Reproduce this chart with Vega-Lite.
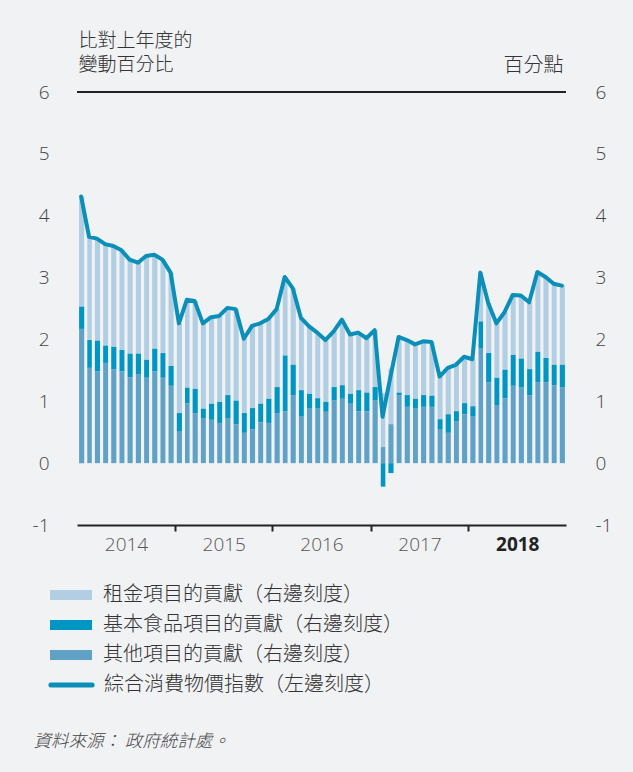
{
  "$schema": "https://vega.github.io/schema/vega-lite/v6.json",
  "width": 489,
  "height": 433,
  "autosize": {"type": "none"},
  "padding": {"left": 77, "top": 92, "right": 67, "bottom": 247},
  "background": "#f1f2f4",
  "config": {
    "view": {"stroke": null},
    "axis": {"grid": false, "labelFont": "Open Sans", "labelFontSize": 19, "labelColor": "#444", "labelFontWeight": 300}
  },
  "data": {"values": [
    {"date": "2014/01/01", "其他": 2.17, "基本食品": 0.36, "租金": 1.78, "ccpi": 4.31},
    {"date": "2014/02/01", "其他": 1.54, "基本食品": 0.45, "租金": 1.67, "ccpi": 3.66},
    {"date": "2014/03/01", "其他": 1.48, "基本食品": 0.50, "租金": 1.65, "ccpi": 3.63},
    {"date": "2014/04/01", "其他": 1.62, "基本食品": 0.28, "租金": 1.64, "ccpi": 3.54},
    {"date": "2014/05/01", "其他": 1.52, "基本食品": 0.36, "租金": 1.63, "ccpi": 3.51},
    {"date": "2014/06/01", "其他": 1.48, "基本食品": 0.35, "租金": 1.61, "ccpi": 3.44},
    {"date": "2014/07/01", "其他": 1.39, "基本食品": 0.38, "租金": 1.52, "ccpi": 3.29},
    {"date": "2014/08/01", "其他": 1.44, "基本食品": 0.33, "租金": 1.47, "ccpi": 3.24},
    {"date": "2014/09/01", "其他": 1.38, "基本食品": 0.29, "租金": 1.68, "ccpi": 3.35},
    {"date": "2014/10/01", "其他": 1.48, "基本食品": 0.37, "租金": 1.52, "ccpi": 3.37},
    {"date": "2014/11/01", "其他": 1.38, "基本食品": 0.40, "租金": 1.51, "ccpi": 3.29},
    {"date": "2014/12/01", "其他": 1.25, "基本食品": 0.32, "租金": 1.51, "ccpi": 3.08},
    {"date": "2015/01/01", "其他": 0.52, "基本食品": 0.29, "租金": 1.45, "ccpi": 2.26},
    {"date": "2015/02/01", "其他": 0.97, "基本食品": 0.25, "租金": 1.42, "ccpi": 2.64},
    {"date": "2015/03/01", "其他": 0.81, "基本食品": 0.39, "租金": 1.42, "ccpi": 2.62},
    {"date": "2015/04/01", "其他": 0.73, "基本食品": 0.15, "租金": 1.38, "ccpi": 2.26},
    {"date": "2015/05/01", "其他": 0.70, "基本食品": 0.26, "租金": 1.40, "ccpi": 2.36},
    {"date": "2015/06/01", "其他": 0.65, "基本食品": 0.34, "租金": 1.39, "ccpi": 2.38},
    {"date": "2015/07/01", "其他": 0.73, "基本食品": 0.37, "租金": 1.41, "ccpi": 2.51},
    {"date": "2015/08/01", "其他": 0.63, "基本食品": 0.38, "租金": 1.48, "ccpi": 2.49},
    {"date": "2015/09/01", "其他": 0.49, "基本食品": 0.32, "租金": 1.20, "ccpi": 2.01},
    {"date": "2015/10/01", "其他": 0.55, "基本食品": 0.34, "租金": 1.33, "ccpi": 2.22},
    {"date": "2015/11/01", "其他": 0.66, "基本食品": 0.30, "租金": 1.30, "ccpi": 2.26},
    {"date": "2015/12/01", "其他": 0.65, "基本食品": 0.39, "租金": 1.29, "ccpi": 2.33},
    {"date": "2016/01/01", "其他": 0.81, "基本食品": 0.42, "租金": 1.26, "ccpi": 2.49},
    {"date": "2016/02/01", "其他": 0.84, "基本食品": 0.90, "租金": 1.27, "ccpi": 3.01},
    {"date": "2016/03/01", "其他": 1.10, "基本食品": 0.49, "租金": 1.24, "ccpi": 2.83},
    {"date": "2016/04/01", "其他": 0.75, "基本食品": 0.43, "租金": 1.17, "ccpi": 2.35},
    {"date": "2016/05/01", "其他": 0.88, "基本食品": 0.24, "租金": 1.09, "ccpi": 2.21},
    {"date": "2016/06/01", "其他": 0.88, "基本食品": 0.17, "租金": 1.06, "ccpi": 2.11},
    {"date": "2016/07/01", "其他": 0.83, "基本食品": 0.16, "租金": 1.00, "ccpi": 1.99},
    {"date": "2016/08/01", "其他": 1.01, "基本食品": 0.22, "租金": 0.90, "ccpi": 2.13},
    {"date": "2016/09/01", "其他": 1.04, "基本食品": 0.22, "租金": 1.06, "ccpi": 2.32},
    {"date": "2016/10/01", "其他": 0.96, "基本食品": 0.16, "租金": 0.96, "ccpi": 2.08},
    {"date": "2016/11/01", "其他": 0.84, "基本食品": 0.34, "租金": 0.93, "ccpi": 2.11},
    {"date": "2016/12/01", "其他": 0.84, "基本食品": 0.30, "租金": 0.88, "ccpi": 2.02},
    {"date": "2017/01/01", "其他": 1.01, "基本食品": 0.22, "租金": 0.92, "ccpi": 2.15},
    {"date": "2017/02/01", "其他": 0.26, "基本食品": -0.38, "租金": 0.87, "ccpi": 0.75},
    {"date": "2017/03/01", "其他": 0.63, "基本食品": -0.16, "租金": 0.90, "ccpi": 1.40},
    {"date": "2017/04/01", "其他": 1.10, "基本食品": 0.04, "租金": 0.90, "ccpi": 2.04},
    {"date": "2017/05/01", "其他": 0.91, "基本食品": 0.19, "租金": 0.89, "ccpi": 1.99},
    {"date": "2017/06/01", "其他": 0.88, "基本食品": 0.16, "租金": 0.88, "ccpi": 1.92},
    {"date": "2017/07/01", "其他": 0.91, "基本食品": 0.19, "租金": 0.87, "ccpi": 1.97},
    {"date": "2017/08/01", "其他": 0.91, "基本食品": 0.18, "租金": 0.87, "ccpi": 1.96},
    {"date": "2017/09/01", "其他": 0.54, "基本食品": 0.17, "租金": 0.69, "ccpi": 1.40},
    {"date": "2017/10/01", "其他": 0.49, "基本食品": 0.30, "租金": 0.75, "ccpi": 1.54},
    {"date": "2017/11/01", "其他": 0.68, "基本食品": 0.16, "租金": 0.75, "ccpi": 1.59},
    {"date": "2017/12/01", "其他": 0.79, "基本食品": 0.18, "租金": 0.75, "ccpi": 1.72},
    {"date": "2018/01/01", "其他": 0.75, "基本食品": 0.17, "租金": 0.76, "ccpi": 1.68},
    {"date": "2018/02/01", "其他": 1.85, "基本食品": 0.44, "租金": 0.79, "ccpi": 3.08},
    {"date": "2018/03/01", "其他": 1.31, "基本食品": 0.47, "租金": 0.81, "ccpi": 2.59},
    {"date": "2018/04/01", "其他": 0.94, "基本食品": 0.44, "租金": 0.88, "ccpi": 2.26},
    {"date": "2018/05/01", "其他": 1.05, "基本食品": 0.46, "租金": 0.93, "ccpi": 2.44},
    {"date": "2018/06/01", "其他": 1.25, "基本食品": 0.50, "租金": 0.97, "ccpi": 2.72},
    {"date": "2018/07/01", "其他": 1.22, "基本食品": 0.47, "租金": 1.02, "ccpi": 2.71},
    {"date": "2018/08/01", "其他": 1.10, "基本食品": 0.42, "租金": 1.08, "ccpi": 2.60},
    {"date": "2018/09/01", "其他": 1.31, "基本食品": 0.49, "租金": 1.29, "ccpi": 3.09},
    {"date": "2018/10/01", "其他": 1.31, "基本食品": 0.39, "租金": 1.31, "ccpi": 3.01},
    {"date": "2018/11/01", "其他": 1.26, "基本食品": 0.33, "租金": 1.31, "ccpi": 2.90},
    {"date": "2018/12/01", "其他": 1.23, "基本食品": 0.36, "租金": 1.28, "ccpi": 2.87}
  ]},
  "layer": [
    {
      "transform": [{"fold": ["租金", "基本食品", "其他"], "as": ["series", "value"]}],
      "mark": {"type": "bar", "width": {"band": 0.74}},
      "encoding": {
        "x": {
          "field": "date", "type": "temporal", "timeUnit": "yearmonth",
          "scale": {"domain": [{"year": 2014, "month": 1, "date": 1}, {"year": 2019, "month": 1, "date": 1}]},
          "axis": {
            "values": [{"year": 2014, "month": 1, "date": 1}, {"year": 2015, "month": 1, "date": 1}, {"year": 2016, "month": 1, "date": 1}, {"year": 2017, "month": 1, "date": 1}, {"year": 2018, "month": 1, "date": 1}],
            "format": "%Y", "labelOffset": 49, "labelFlush": false, "labelOverlap": false, "labelBound": false,
            "labelPadding": 4, "labelBaseline": "top", "tickSize": 6, "tickWidth": 2, "tickColor": "#222",
            "tickOpacity": {"condition": {"test": "year(datum.value) == 2014", "value": 0}, "value": 1},
            "domainColor": "#222", "domainWidth": 2,
            "labelFontWeight": {"condition": {"test": "year(datum.value) == 2018", "value": 700}, "value": 300},
            "labelColor": {"condition": {"test": "year(datum.value) == 2018", "value": "#222"}, "value": "#555"},
            "title": "資料來源： 政府統計處。", "titleX": -44, "titleY": 216, "titleAlign": "left", "titleAnchor": "start",
            "titleBaseline": "middle", "titleAngle": 0, "titleFont": "Noto Sans CJK TC", "titleFontSize": 17.5,
            "titleFontStyle": "italic", "titleFontWeight": 300, "titleColor": "#444"
          }
        },
        "y": {
          "field": "value", "type": "quantitative", "stack": "zero",
          "scale": {"domain": [-1, 6], "nice": false, "zero": false},
          "axis": {
            "orient": "right", "values": [-1, 0, 1, 2, 3, 4, 5, 6], "labelExpr": "datum.value + ''",
            "ticks": false, "tickSize": 0, "domain": false,
            "labelPadding": 29, "labelAlign": "left", "labelBaseline": "middle",
            "title": "百分點", "titleAngle": 0, "titleAlign": "right", "titleBaseline": "alphabetic",
            "titleX": -3, "titleY": -21, "titleFont": "Noto Sans CJK TC", "titleFontSize": 20,
            "titleFontWeight": 300, "titleColor": "#333"
          }
        },
        "color": {
          "field": "series", "type": "nominal",
          "scale": {"domain": ["租金", "基本食品", "其他"], "range": ["#b2cee3", "#0096c3", "#60a2c6"]},
          "legend": {
            "title": null, "orient": "none", "legendX": -27, "legendY": 493, "padding": 0,
            "symbolType": "M-1,-0.24H1V0.24H-1Z", "symbolSize": 1764, "symbolStrokeWidth": 0, "symbolOpacity": 1,
            "clipHeight": 20, "rowPadding": 10, "labelOffset": 11,
            "labelFont": "Noto Sans CJK TC", "labelFontSize": 20, "labelFontWeight": 300, "labelColor": "#333", "labelLimit": 500,
            "labelExpr": "datum.label + '項目的貢獻（右邊刻度）'"
          }
        },
        "order": {"field": "series", "sort": "ascending"}
      }
    },
    {
      "layer": [
        {
          "mark": {"type": "line", "strokeWidth": 4, "strokeJoin": "round", "strokeCap": "round"},
          "encoding": {
            "x": {
              "field": "date", "type": "temporal", "timeUnit": "yearmonth", "bandPosition": 0.5,
              "scale": {"domain": [{"year": 2014, "month": 1, "date": 1}, {"year": 2019, "month": 1, "date": 1}]},
              "axis": {
                "values": [{"year": 2014, "month": 1, "date": 1}, {"year": 2015, "month": 1, "date": 1}, {"year": 2016, "month": 1, "date": 1}, {"year": 2017, "month": 1, "date": 1}, {"year": 2018, "month": 1, "date": 1}],
                "format": "%Y", "labelOffset": 49, "labelFlush": false, "labelOverlap": false, "labelBound": false,
                "labelPadding": 4, "labelBaseline": "top", "tickSize": 6, "tickWidth": 2, "tickColor": "#222",
                "tickOpacity": {"condition": {"test": "year(datum.value) == 2014", "value": 0}, "value": 1},
                "domainColor": "#222", "domainWidth": 2,
                "labelFontWeight": {"condition": {"test": "year(datum.value) == 2018", "value": 700}, "value": 300},
                "labelColor": {"condition": {"test": "year(datum.value) == 2018", "value": "#222"}, "value": "#555"},
                "title": "資料來源： 政府統計處。", "titleX": -44, "titleY": 216, "titleAlign": "left", "titleAnchor": "start",
                "titleBaseline": "middle", "titleAngle": 0, "titleFont": "Noto Sans CJK TC", "titleFontSize": 17.5,
                "titleFontStyle": "italic", "titleFontWeight": 300, "titleColor": "#444"
              }
            },
            "y": {
              "field": "ccpi", "type": "quantitative",
              "scale": {"domain": [-1, 6], "nice": false, "zero": false},
              "axis": {
                "orient": "left", "values": [-1, 0, 1, 2, 3, 4, 5, 6], "labelExpr": "datum.value + ''",
                "ticks": false, "tickSize": 0, "domain": false,
                "labelPadding": 28, "labelAlign": "right", "labelBaseline": "middle",
                "title": ["比對上年度的", "變動百分比"], "titleAngle": 0, "titleAlign": "left", "titleBaseline": "alphabetic",
                "titleX": 1, "titleY": -46, "titleLineHeight": 24, "titleFont": "Noto Sans CJK TC", "titleFontSize": 19,
                "titleFontWeight": 300, "titleColor": "#333"
              }
            },
            "stroke": {
              "datum": "綜合消費物價指數（左邊刻度）",
              "scale": {"range": ["#0a8fb9"]},
              "legend": {
                "title": null, "orient": "none", "legendX": -29, "legendY": 583, "padding": 0,
                "symbolType": "stroke", "symbolSize": 1700, "symbolStrokeWidth": 5,
                "clipHeight": 20, "labelOffset": 9,
                "labelFont": "Noto Sans CJK TC", "labelFontSize": 20, "labelFontWeight": 300, "labelColor": "#333", "labelLimit": 500,
                "encode": {"symbols": {"update": {"strokeCap": {"value": "round"}}}}
              }
            }
          }
        },
        {
          "mark": {"type": "rule", "stroke": "#222", "strokeWidth": 2},
          "encoding": {"y": {"datum": 6}}
        }
      ]
    }
  ],
  "resolve": {"scale": {"y": "independent"}}
}
